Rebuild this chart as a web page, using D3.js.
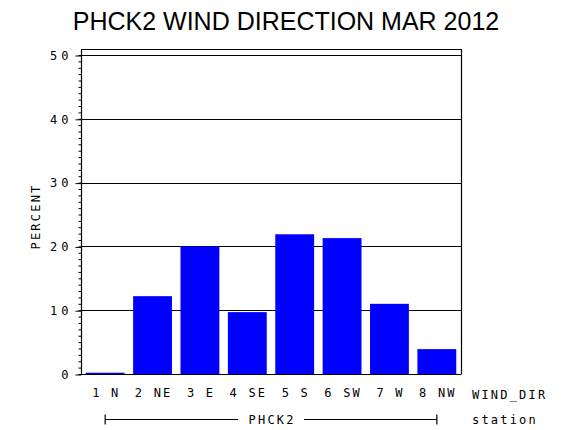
<!DOCTYPE html>
<html>
<head>
<meta charset="utf-8">
<script src="https://cdn.jsdelivr.net/npm/d3@7"></script>
<style>
    body { margin: 0; background: #fff; }
    svg text { fill: #000; }
</style>
</head>
<body>
<div id="chart"></div>
<script>
// wind direction categories (x axis)
var windDirs = ['1 N', '2 NE', '3 E', '4 SE', '5 S', '6 SW', '7 W', '8 NW'];

// percent of observations per direction
var percents = [0.2, 12.2, 20.0, 9.7, 21.9, 21.3, 11.0, 3.9];

// y axis tick labels
var yTicks = [0, 10, 20, 30, 40, 50];

var stationName = 'PHCK2';
var titleText = 'PHCK2 WIND DIRECTION MAR 2012';

var width = 570,
    height = 430;

// plot frame
var left = 81,
    right = 461,
    frameTop = 49,
    bottom = 374;

var monoFont = '"DejaVu Sans Mono", monospace';
var labelSize = '12px',
    labelSpacing = '2.2px';

var svg = d3.select('#chart').append('svg')
    .attr('width', width)
    .attr('height', height);

var x = d3.scaleBand()
    .domain(windDirs)
    .range([left, right])
    .paddingInner(0.18)
    .paddingOuter(0.1);

var y = d3.scaleLinear()
    .domain([0, 50])
    .range([bottom, 55]);

// title
svg.append('text')
    .attr('x', 286)
    .attr('y', 30)
    .attr('text-anchor', 'middle')
    .style('font-family', '"Liberation Sans", Arial, sans-serif')
    .style('font-size', '25px')
    .text(titleText);

// grid lines
svg.append('g')
    .selectAll('line')
    .data(yTicks.filter(function(d){ return d > 0; }))
    .enter().append('line')
        .attr('x1', left)
        .attr('x2', right)
        .attr('y1', function(d){ return Math.round(y(d)) + 0.5; })
        .attr('y2', function(d){ return Math.round(y(d)) + 0.5; })
        .attr('stroke', '#000')
        .attr('stroke-width', 1.2);

// bars
svg.append('g')
    .selectAll('rect')
    .data(percents)
    .enter().append('rect')
        .attr('x', function(d, i){ return x(windDirs[i]); })
        .attr('width', x.bandwidth())
        .attr('y', function(d){ return y(d); })
        .attr('height', function(d){ return y(0) - y(d); })
        .attr('fill', '#0000ff');

// frame (top and right)
svg.append('path')
    .attr('d', 'M' + left + ',' + (frameTop + 0.5) + 'H' + (right + 0.5) + 'V' + bottom)
    .attr('fill', 'none')
    .attr('stroke', '#000')
    .attr('stroke-width', 1.2);

// bottom axis line
svg.append('line')
    .attr('x1', left)
    .attr('x2', right + 0.5)
    .attr('y1', bottom + 0.5)
    .attr('y2', bottom + 0.5)
    .attr('stroke', '#000')
    .attr('stroke-width', 1.2);

// minor ticks every 1 percent
var minorAxis = d3.axisLeft(y)
    .tickValues(d3.range(0, 51))
    .tickSize(3)
    .tickFormat('');

svg.append('g')
    .attr('transform', 'translate(' + (left + 0.5) + ',0)')
    .call(minorAxis)
    .call(function(g){ g.select('.domain').remove(); })
    .selectAll('line').attr('stroke', '#000');

// major ticks
var yAxis = d3.axisLeft(y)
    .tickValues(yTicks)
    .tickSize(6)
    .tickPadding(7)
    .tickFormat(d3.format('d'));

var gy = svg.append('g')
    .attr('transform', 'translate(' + (left + 0.5) + ',0.5)')
    .call(yAxis);

gy.select('.domain')
    .attr('d', 'M0,' + (frameTop) + 'V' + bottom)
    .attr('stroke', '#000')
    .attr('stroke-width', 1.2);
gy.selectAll('line').attr('stroke', '#000');
gy.selectAll('text')
    .attr('dx', 4)
    .attr('dy', '0.32em')
    .style('font-family', monoFont)
    .style('font-size', labelSize)
    .style('letter-spacing', '4px')
    .attr('fill', '#000');

// y axis label
svg.append('text')
    .attr('transform', 'translate(40,' + ((bottom + 55) / 2 + 2) + ') rotate(-90)')
    .attr('text-anchor', 'middle')
    .style('font-family', monoFont)
    .style('font-size', labelSize)
    .style('letter-spacing', labelSpacing)
    .text('PERCENT');

// x category labels
var xAxis = d3.axisBottom(x)
    .tickSize(0)
    .tickPadding(14);

var gx = svg.append('g')
    .attr('transform', 'translate(0,' + bottom + ')')
    .call(xAxis);

gx.select('.domain').remove();
gx.selectAll('text')
    .attr('dx', 1.1)
    .style('font-family', monoFont)
    .style('font-size', labelSize)
    .style('letter-spacing', labelSpacing)
    .attr('fill', '#000');

svg.append('text')
    .attr('x', 472)
    .attr('y', 399)
    .style('font-family', monoFont)
    .style('font-size', labelSize)
    .style('letter-spacing', labelSpacing)
    .text('WIND_DIR');

// station bracket
var bx1 = x(windDirs[0]) + x.bandwidth() / 2,
    bx2 = x(windDirs[windDirs.length - 1]) + x.bandwidth() / 2,
    by = 419.5,
    bmid = (bx1 + bx2) / 2;

var bracket = svg.append('g')
    .attr('stroke', '#000')
    .attr('stroke-width', 1.2);

bracket.append('path')
    .attr('fill', 'none')
    .attr('d', 'M' + bx1 + ',' + (by - 5) + 'V' + (by + 5) +
               'M' + bx1 + ',' + by + 'H' + (bmid - 33) +
               'M' + (bmid + 33) + ',' + by + 'H' + bx2 +
               'M' + bx2 + ',' + (by - 5) + 'V' + (by + 5));

svg.append('text')
    .attr('x', bmid + 1.1)
    .attr('y', 424)
    .attr('text-anchor', 'middle')
    .style('font-family', monoFont)
    .style('font-size', labelSize)
    .style('letter-spacing', labelSpacing)
    .text(stationName);

svg.append('text')
    .attr('x', 472)
    .attr('y', 424)
    .style('font-family', monoFont)
    .style('font-size', labelSize)
    .style('letter-spacing', labelSpacing)
    .text('station');
</script>
</body>
</html>
